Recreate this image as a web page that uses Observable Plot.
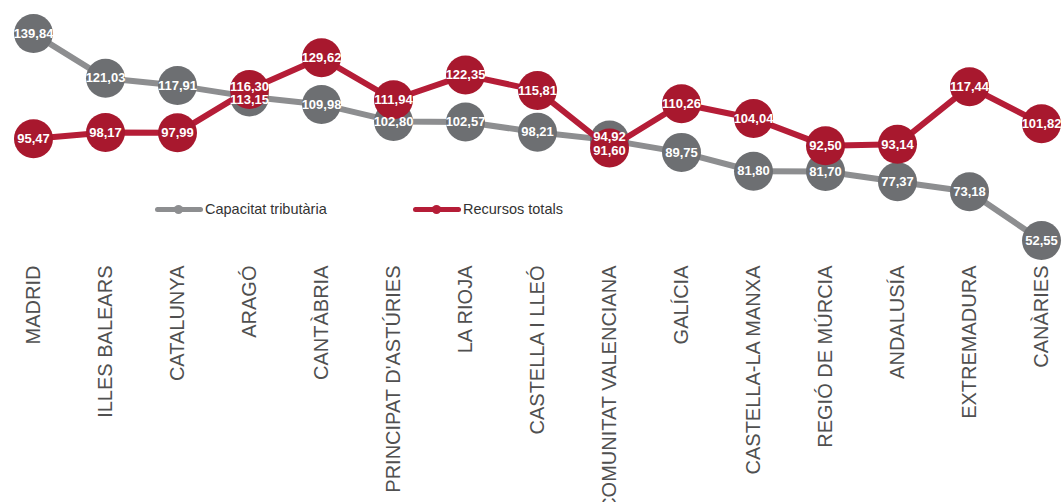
<!DOCTYPE html>
<html>
<head>
<meta charset="utf-8">
<script src="https://cdn.jsdelivr.net/npm/d3@7"></script>
<script src="https://cdn.jsdelivr.net/npm/@observablehq/plot@0.6"></script>
<style>
  html, body { margin: 0; padding: 0; background: #fff; }
  #wrap { position: relative; width: 1064px; height: 502px; overflow: hidden; }
  .leg { position: absolute; top: 200px; height: 18px; display: flex; align-items: center;
         font-family: Arial, "Liberation Sans", sans-serif; font-size: 14.5px; color: #333; }
  .sw { position: relative; width: 48px; height: 5px; border-radius: 3px; margin-right: 2px; }
  .sw i { position: absolute; left: 19px; top: -2px; width: 9px; height: 9px; border-radius: 50%; background: inherit; }
</style>
</head>
<body>
<div id="wrap"></div>
<script>
const regions = ["MADRID", "ILLES BALEARS", "CATALUNYA", "ARAGÓ", "CANTÀBRIA", "PRINCIPAT D'ASTÚRIES", "LA RIOJA", "CASTELLA I LLEÓ", "COMUNITAT VALENCIANA", "GALÍCIA", "CASTELLA-LA MANXA", "REGIÓ DE MÚRCIA", "ANDALUSÍA", "EXTREMADURA", "CANÀRIES"];
const capacitat = [139.84, 121.03, 117.91, 113.15, 109.98, 102.80, 102.57, 98.21, 94.92, 89.75, 81.80, 81.70, 77.37, 73.18, 52.55];
const recursos = [95.47, 98.17, 97.99, 116.30, 129.62, 111.94, 122.35, 115.81, 91.60, 110.26, 104.04, 92.50, 93.14, 117.44, 101.82];
const seriesNames = ["Capacitat tributària", "Recursos totals"];

const grayLine = "#8d8e90", grayDot = "#6d6f72";
const redLine = "#b51d37", redDot = "#a8182e";

const fmt = v => v.toFixed(2).replace(".", ",");
const capData = regions.map((r, i) => ({region: r, value: capacitat[i], other: recursos[i]}));
const recData = regions.map((r, i) => ({region: r, value: recursos[i], other: capacitat[i]}));
const nudge = d => Math.abs(d.value - d.other) < 5 ? (d.value > d.other ? -1 : 1) : 0;

const labelOpts = {fill: "white", fontWeight: "bold", fontSize: 13, fontFamily: "Arial, 'Liberation Sans', sans-serif"};

const chart = Plot.plot({
  width: 1064,
  height: 502,
  marginLeft: 32,
  marginRight: 23,
  marginTop: 9,
  marginBottom: 244,
  x: {type: "point", domain: regions, padding: 0},
  y: {domain: [45, 150], axis: null},
  style: {background: "white"},
  marks: [
    Plot.axisX({tickSize: 0, tickPadding: 7, tickRotate: -90, fontSize: 20, fill: "#505050",
                fontFamily: "Arial, 'Liberation Sans', sans-serif", label: null}),
    Plot.line(capData, {x: "region", y: "value", stroke: grayLine, strokeWidth: 6}),
    Plot.dot(capData, {x: "region", y: "value", r: 19.5, fill: grayDot}),
    Plot.line(recData, {x: "region", y: "value", stroke: redLine, strokeWidth: 6}),
    Plot.dot(recData, {x: "region", y: "value", r: 19.5, fill: redDot}),
    Plot.text(capData.filter(d => nudge(d) === 0), {x: "region", y: "value", text: d => fmt(d.value), ...labelOpts}),
    Plot.text(recData.filter(d => nudge(d) === 0), {x: "region", y: "value", text: d => fmt(d.value), ...labelOpts}),
    Plot.text(capData.filter(d => nudge(d) < 0).concat(recData.filter(d => nudge(d) < 0)), {x: "region", y: "value", text: d => fmt(d.value), dy: -3, ...labelOpts}),
    Plot.text(capData.filter(d => nudge(d) > 0).concat(recData.filter(d => nudge(d) > 0)), {x: "region", y: "value", text: d => fmt(d.value), dy: 3, ...labelOpts})
  ]
});
const wrap = document.getElementById("wrap");
wrap.appendChild(chart);

const legendItems = [
  {name: seriesNames[0], color: grayLine, left: 155},
  {name: seriesNames[1], color: redLine, left: 413}
];
for (const it of legendItems) {
  const el = document.createElement("div");
  el.className = "leg";
  el.style.left = it.left + "px";
  const sw = document.createElement("span");
  sw.className = "sw";
  sw.style.background = it.color;
  sw.appendChild(document.createElement("i"));
  el.appendChild(sw);
  el.appendChild(document.createTextNode(it.name));
  wrap.appendChild(el);
}
</script>
</body>
</html>
